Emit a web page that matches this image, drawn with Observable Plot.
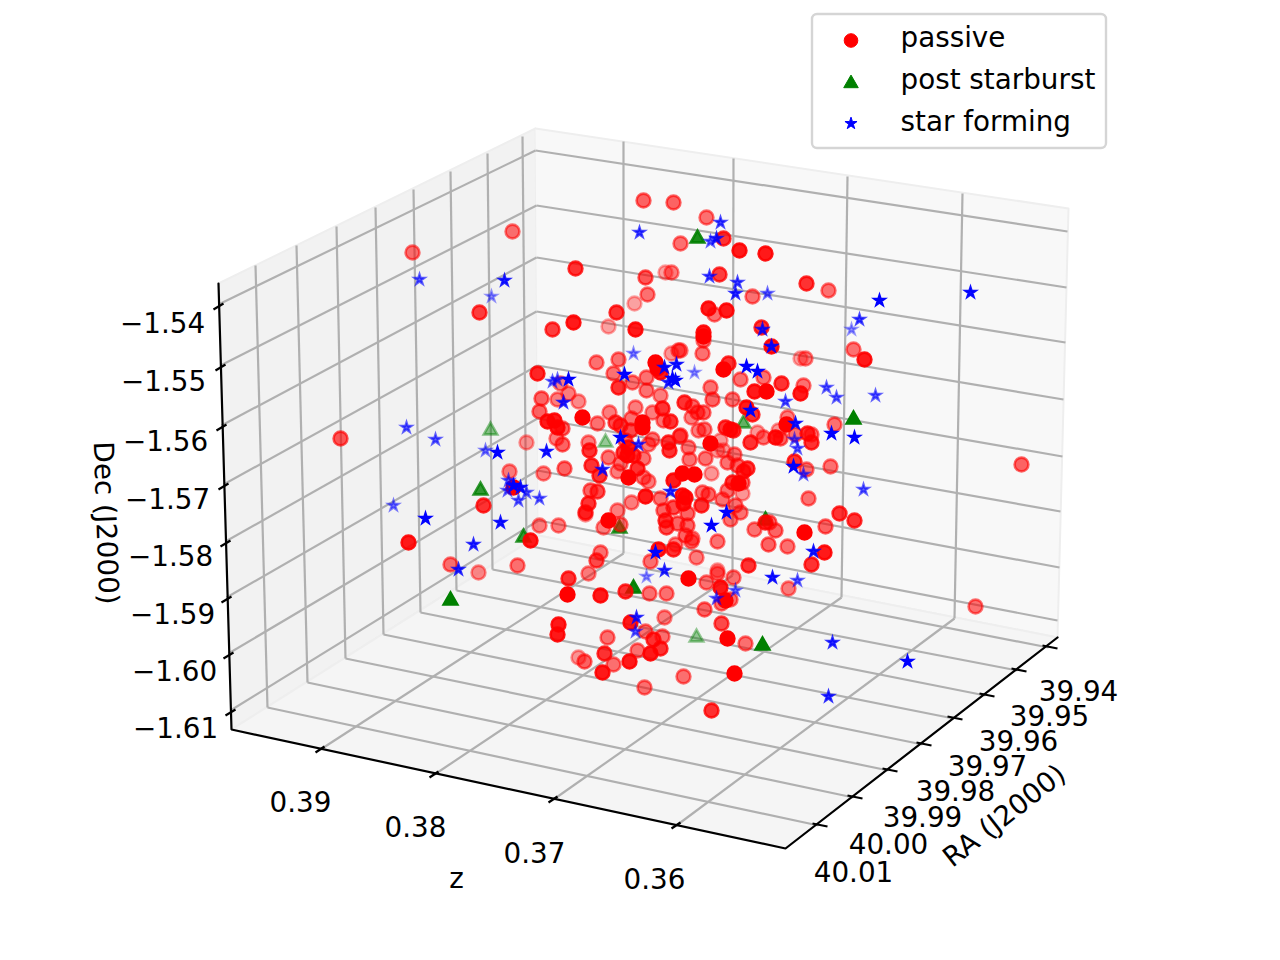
<!DOCTYPE html>
<html><head><meta charset="utf-8">
<script src="https://cdn.jsdelivr.net/npm/d3@7"></script>
<script src="https://cdn.jsdelivr.net/npm/@observablehq/plot@0.6"></script>
<style>html,body{margin:0;background:#fff}svg{display:block}</style></head><body><div id="chart"></div>
<script>
// Projected picture coordinates [h, v, depth shade].
const passive = [
[537,373,.85],[596,362,.55],[618,359,.55],[613,373,.55],[618,387,.8],[632,382,.55],[646,377,.55],[646,390,.55],[655,362,1],[657,368,1],[660,372,.9],[678,350,.55],[671,353,.4],[541,398,.6],[557,399,.5],[578,401,.45],[568,393,.5],[560,383,.5],[539,411,.6],[582,417,1],[597,423,.55],[547,421,.9],[554,420,.9],[557,427,.9],[562,428,.6],[556,438,.5],[562,444,.6],[526,442,.4],[588,442,.5],[589,450,.8],[609,412,.5],[635,407,.5],[652,412,.5],[662,408,.8],[663,420,.55],[670,421,.8],[684,402,.8],[692,406,.6],[697,412,.6],[691,417,.5],[660,395,.5],[615,422,.7],[620,425,.7],[631,418,.55],[642,422,1],[642,427,1],[630,430,.7],[625,440,.6],[652,439,.55],[648,444,.5],[668,442,.8],[669,450,.8],[679,436,.5],[688,447,.55],[689,459,.55],[628,447,.9],[627,455,.9],[623,452,.8],[633,455,.8],[643,458,.55],[608,457,.55],[591,465,.8],[599,475,.8],[620,463,.55],[617,471,.5],[564,468,.6],[543,473,.5],[509,471,.5],[637,468,.8],[628,477,1],[643,477,.55],[648,481,.5],[673,480,.9],[682,473,1],[694,474,1],[645,496,.9],[631,502,.5],[590,490,.6],[597,491,.7],[588,503,.8],[585,512,.8],[585,514,.4],[617,510,.5],[608,520,1],[620,524,.55],[603,527,.5],[539,525,.5],[558,525,.5],[530,540,.9],[660,498,.55],[682,495,.9],[683,503,.9],[663,510,.6],[673,507,.7],[687,513,.6],[665,520,.8],[666,527,.7],[677,523,.6],[687,525,.6],[685,535,.6],[698,430,.5],[513,487,1],
[702,353,.55],[728,363,.8],[723,369,1],[703,340,.55],[680,350,.5],[740,379,.55],[763,377,.55],[781,383,.8],[803,385,.55],[800,393,.9],[754,391,.9],[766,391,1],[800,358,.35],[805,358,.5],[853,349,.55],[864,359,.9],[710,387,.55],[712,399,.6],[732,399,.55],[703,412,.6],[746,407,.9],[752,414,.8],[787,417,.5],[786,424,1],[834,424,.55],[725,427,.8],[730,429,.9],[733,430,.8],[704,429,.55],[757,432,.4],[778,430,.4],[750,442,.8],[763,437,.55],[775,437,.9],[780,438,.6],[795,434,.55],[807,433,.8],[811,434,.55],[811,442,.8],[710,443,1],[720,440,.4],[680,435,.6],[723,450,.4],[717,450,.4],[734,454,.55],[705,458,.55],[727,462,.55],[737,465,.6],[747,468,.8],[743,471,.8],[711,473,.4],[794,461,.8],[806,469,.55],[830,466,.55],[732,482,.8],[738,483,1],[742,482,.6],[742,493,.4],[727,490,.55],[702,492,.55],[708,494,.6],[722,499,.55],[701,505,.8],[685,497,.9],[735,505,.55],[740,512,.55],[730,519,.55],[808,498,.55],[839,513,.8],[854,520,.8],[825,526,.6],[765,522,.8],[754,529,.55],[769,522,.6],[775,530,.6],[804,532,1],[717,541,.55],[768,544,.6],[787,546,.55],[692,538,.5],
[600,552,.55],[596,560,.7],[588,573,.5],[568,578,.8],[567,594,1],[600,595,.9],[625,591,.8],[649,593,.55],[666,593,.55],[658,549,.9],[650,561,.55],[673,549,.8],[675,544,.5],[691,541,.55],[696,557,.5],[688,578,1],[706,582,.55],[717,570,.4],[717,573,.55],[558,624,.9],[557,634,.9],[607,637,.55],[630,622,.9],[645,631,.55],[653,639,.8],[662,636,.55],[664,617,.5],[704,609,.6],[578,657,.4],[584,661,.6],[604,653,.8],[613,664,.55],[602,672,.9],[629,661,.9],[637,650,.55],[650,653,.9],[660,648,.8],[683,676,.55],[644,687,.55],[711,710,.8],
[824,552,.9],[811,564,.8],[748,565,.8],[788,588,.5],[733,577,.55],[720,587,.9],[730,599,.55],[721,603,.55],[725,600,1],[721,623,.7],[727,638,1],[745,643,.55],[734,673,1],[975,606,.55],
[643,200,.6],[673,202,.6],[706,217,.55],[723,238,.8],[680,243,.55],[739,250,.9],[765,253,.9],[665,272,.35],[671,272,.5],[645,277,.65],[719,274,.75],[647,294,.55],[634,303,.35],[806,283,.8],[828,290,.55],[752,296,.55],[616,312,.8],[708,308,.9],[714,314,.55],[726,310,.9],[608,326,.35],[635,329,.9],[703,332,.9],[703,336,1],[761,327,.8],[771,346,.9],
[483,505,.8],[408,542,.9],[450,564,.55],[478,572,.45],[517,565,.55],[412,252,.55],[512,231,.55],[575,268,.8],[479,312,.75],[552,329,.75],[573,322,.9],[340,438,.65],[1021,464,.6]];
const postStarburst = [[697,238,.9],[743,423,.6],[853,419,1],[765,520,.9],[605,442,.4],[619,528,.8],[490,430,.45],[480,490,.8],[523,537,.8],[450,600,1],[633,588,.95],[696,637,.4],[762,645,1]];
const starForming = [
[633,353,.45],[552,381,.6],[557,379,.6],[568,379,1],[624,374,1],[563,402,.8],[664,367,.9],[676,364,.9],[694,372,.4],[672,378,1],[668,382,.8],[675,380,1],[620,437,1],[638,444,.75],[546,451,.9],[602,469,.8],[670,491,.8],[746,366,1],[757,371,1],[771,346,.9],[826,387,.6],[836,397,.6],[875,395,.6],[785,401,.65],[750,410,1],[795,423,.9],[831,433,1],[854,437,1],[794,439,.55],[797,448,.6],[793,466,1],[803,474,.6],[863,489,.6],[726,512,1],[711,525,1],
[720,222,.7],[639,232,.7],[710,241,.6],[716,238,.8],[709,276,.7],[737,282,.7],[735,293,.8],[767,293,.55],[879,300,1],[859,319,.7],[851,329,.4],[762,329,.8],[970,292,.95],[419,279,.6],[504,280,.85],[491,296,.4],
[406,427,.6],[435,439,.6],[485,450,.5],[497,452,1],[393,505,.5],[425,518,1],[500,522,.9],[473,544,.8],[458,569,.8],[508,480,.6],[507,490,.6],[520,487,.9],[526,492,.6],[518,500,.6],[539,498,.6],[513,485,1],[655,552,1],[664,570,.8],[646,576,.4],[636,617,.8],[635,631,.6],[813,551,.9],[772,577,.9],[797,580,.6],[735,590,.55],[716,598,.6],[832,642,.8],[907,661,1],[828,696,.8]];

const paneLeft = [[218,283],[535,128],[538,535],[231,729]];
const paneBack = [[535,128],[1068,208],[1057,637],[538,535]];
const paneFloor = [[231,729],[538,535],[1057,637],[785,848]];

// per-tick grid polylines on panes
const raTickLabels = ["40.01","40.00","39.99","39.98","39.97","39.96","39.95","39.94"];
const raTop = [[255,265],[296,245],[336,226],[375,207],[413,189],[450,171],[487,153],[522,136]];
const raBack = [[267,707],[307,682],[345,658],[383,634],[420,612],[456,590],[492,569],[526,545]];
const raFront = [[818,825],[853,797],[888,770],[922,744],[953,718],[985,695],[1017,670],[1048,647]];
const raLabelPos = [[853,871],[888,843],[922,816],[955,790],[987,765],[1018,740],[1049,715],[1078,690]];

const zTickLabels = ["0.39","0.38","0.37","0.36"];
const zFront = [[320,749],[434,774],[553,799],[676,825]];
const zBack = [[623,553],[732,575],[841,597],[954,618]];
const zTop = [[623,141],[733,158],[847,176],[962,193]];
const zLabelPos = [[300,801],[415,826],[534,852],[654,878]];

const decTickLabels = ["\u22121.54","\u22121.55","\u22121.56","\u22121.57","\u22121.58","\u22121.59","\u22121.60","\u22121.61"];
const decLeft = [[218,304],[220,365],[221,425],[223,484],[225,541],[226,597],[228,653],[230,710]];
const decCorner = [[535,150],[536,205],[536,257],[536,311],[537,365],[537,418],[537,470],[538,520]];
const decRight = [[1067,231],[1066,287],[1065,342],[1063,399],[1062,456],[1060,511],[1059,567],[1057,620]];
const decLabelPos = [[162,322],[163,380],[165,440],[167,498],[170,555],[172,613],[174,670],[175,727]];

const axisLine = [[218,283],[231,729],[785,848],[1057,637]];
const legendCircle = [[850.5,40]], legendTriangle = [[850.5,83]], legendStar = [[850.5,123]];
const legendLabels = ["passive","post starburst","star forming"];
const legendLabelPos = [[900,38],[900,80],[900,122]];

const FS = 27.8, GRID = "#b0b0b0", F = "DejaVu Sans";
const seg = (a,b) => a.map((p,i)=>({x1:p[0],y1:p[1],x2:b[i][0],y2:b[i][1]}));
const segs = [...seg(raTop,raBack),...seg(raBack,raFront),...seg(zFront,zBack),...seg(zBack,zTop),...seg(decLeft,decCorner),...seg(decCorner,decRight)];
const link = (data,o) => Plot.link(data,{x1:"x1",y1:"y1",x2:"x2",y2:"y2",...o});
const pane = (pts,c) => Plot.line(pts,{x:d=>d[0],y:d=>d[1],fill:c,stroke:"#eeeeee",strokeWidth:2});
const ticks = (pts,dx1,dy1,dx2,dy2) => pts.map(p=>({x1:p[0]+dx1,y1:p[1]+dy1,x2:p[0]+dx2,y2:p[1]+dy2}));
const dots = (data,symbol,color,r,sw) => Plot.dot(data,{x:d=>d[0],y:d=>d[1],symbol,r,fill:color,stroke:color,strokeWidth:sw,fillOpacity:d=>d[2],strokeOpacity:d=>d[2]});
const labels = (pts,txt,o={}) => Plot.text(pts,{x:d=>d[0],y:d=>d[1],dy:1.5,text:(d,i)=>txt[i],fontSize:FS,fontFamily:F,fill:"black",textAnchor:"middle",lineAnchor:"middle",...o});
const legendDot = (pos,symbol,color,r) => Plot.dot(pos,{x:d=>d[0],y:d=>d[1],symbol,r,fill:color,stroke:color,strokeWidth:1});

const plot = Plot.plot({
  width:1280,height:960,margin:0,
  x:{domain:[0,1280],range:[0,1280],axis:null},
  y:{domain:[0,960],range:[0,960],axis:null},
  opacity:{domain:[0,1],range:[0,.93]},
  style:{background:"white"},
  marks:[
    pane(paneLeft,"#f2f2f2"),pane(paneBack,"#f8f8f8"),pane(paneFloor,"#f5f5f5"),
    link(segs,{stroke:GRID,strokeWidth:2.2}),
    Plot.line(axisLine,{x:d=>d[0],y:d=>d[1],stroke:"black",strokeWidth:2.2,strokeLinejoin:"miter"}),
    link([...ticks(raFront,-6,-2,9,1),...ticks(zFront,-5,3,4,-3),...ticks(decLeft,-5,5,5,-1)],{stroke:"black",strokeWidth:2.2}),
    dots(postStarburst,"triangle","green",5,2.6),
    dots(passive,"circle","red",6.9,2.6),
    dots(starForming,"star","blue",3.2,2.2),
    labels(raLabelPos,raTickLabels),labels(zLabelPos,zTickLabels),labels(decLabelPos,decTickLabels),
    labels([[456,877]],["z"]),
    labels([[105,521]],["Dec (J2000)"],{rotate:88}),
    labels([[1004,814]],["RA (J2000)"],{rotate:-38}),
    Plot.rect([[812,14,1106,148]],{x1:d=>d[0],y1:d=>d[1],x2:d=>d[2],y2:d=>d[3],fill:"white",fillOpacity:.8,stroke:"#d5d5d5",strokeWidth:2.4,rx:5}),
    legendDot(legendCircle,"circle","red",6.8),
    legendDot(legendTriangle,"triangle","green",5.4),
    legendDot(legendStar,"star","blue",3.8),
    labels(legendLabelPos,legendLabels,{textAnchor:"start",dy:0})
  ]
});
document.getElementById("chart").append(plot);
</script></body></html>
